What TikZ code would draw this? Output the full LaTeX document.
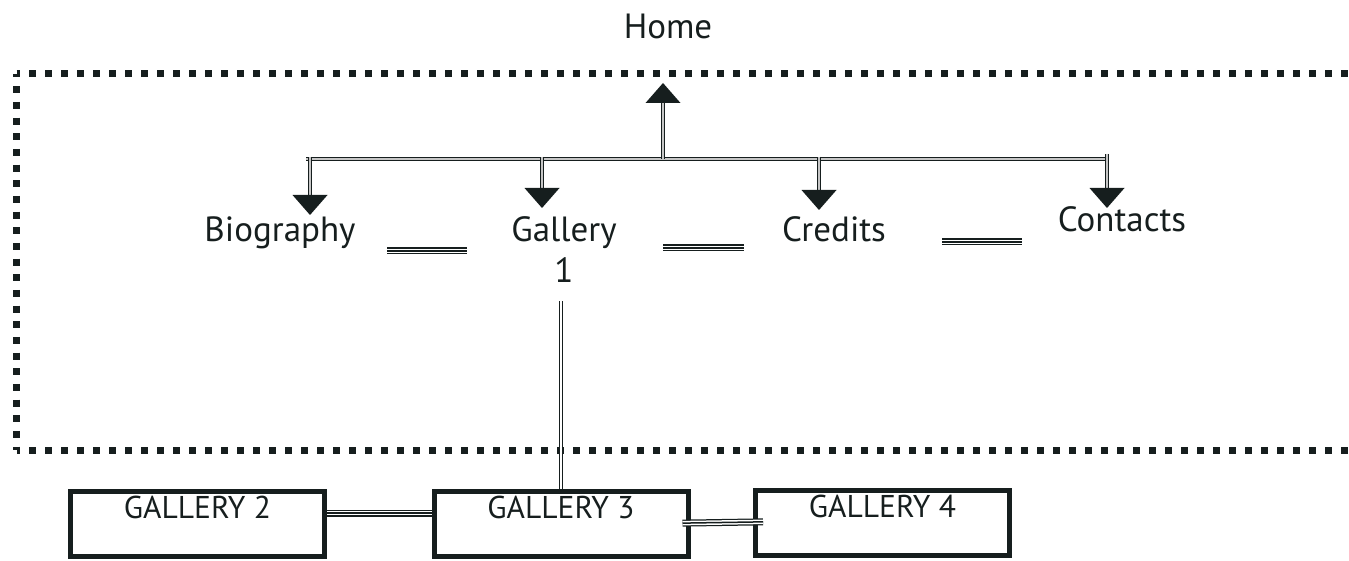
\documentclass[tikz,border=0pt]{standalone}
\usepackage{fontspec}
\setmainfont{PT Sans}
\usetikzlibrary{calc}
\definecolor{ink}{RGB}{22,30,30}
\tikzset{
  lbl/.style={inner sep=0pt, text=ink, font=\fontsize{35}{41}\selectfont},
  gbox/.style={draw=ink, line width=5pt, inner sep=0pt, minimum width=254pt,
    text height=26.5pt, text depth=38.5pt, text=ink, font=\fontsize{31.5}{34}\selectfont},
  stem/.style={draw=ink, line width=1.3pt, double=gray!45, double distance=1.4pt},
  rail/.style={draw=ink, line width=1.2pt, double=white, double distance=1.5pt},
  triple/.style={draw=ink, line width=7pt,
    postaction={draw=white, line width=1.5pt, double=ink, double distance=1.5pt}},
  border/.style={draw=ink, line width=7pt},
  head/.pic={\fill[ink] (0,0) -- (-17.5,-20) -- (17.5,-20) -- cycle;}
}
\begin{document}
\begin{tikzpicture}[x=1pt, y=-1pt]
  \useasboundingbox (0,0) rectangle (1349,561);
  % dotted frame
  \draw[border, dash pattern=on 7pt off 9pt, dash phase=3.5pt] (16.5,74) -- (1349,74);
  \draw[border, dash pattern=on 7pt off 8.67pt, dash phase=3.5pt] (16.5,74) -- (16.5,450);
  \draw[border, dash pattern=on 7pt off 9pt, dash phase=3.5pt] (16.5,450) -- (1349,450);
  % labels
  \node[lbl, anchor=base] (home) at (668,39) {Home};
  \node[lbl, anchor=base] (bio) at (280,242) {Biography};
  \node[lbl, anchor=north, align=center] (gal) at (564,216) {Gallery\\1};
  \node[lbl, anchor=base] (cred) at (834,242) {Credits};
  \node[lbl, anchor=base] (cont) at (1122,232) {Contacts};
  % boxes
  \node[gbox, anchor=base] (g2) at (197.5,518) {GALLERY 2};
  \node[gbox, anchor=base] (g3) at (561,518) {GALLERY 3};
  \node[gbox, anchor=base] (g4) at (882.5,517) {GALLERY 4};
  % bar and arrows
  \coordinate (bar-w) at (306,159);
  \coordinate (bar-e) at (1109,159);
  \coordinate (home-in) at (663,83);
  \draw[stem] (bar-w) -- (bar-e);
  \draw[stem] (home-in |- bar-w) -- ([yshift=-20pt]home-in);
  \pic[rotate=180] at (home-in) {head};
  \foreach \x/\ytop/\ytip in {310/157/215, 542/157/208, 819/157/210, 1107/154/208}{
    \draw[stem] (\x,\ytop) -- (\x,\ytip-20);
    \pic at (\x,\ytip) {head};
  }
  % links between labels
  \draw[triple] (387,251) -- ++(80,0);
  \draw[triple] (663,248) -- ++(81,0);
  \draw[triple] (942,242) -- ++(80,0);
  % links to boxes
  \draw[rail, shorten <=19pt] (g3.north |- gal.south) -- (g3.north);
  \draw[triple] ([yshift=11pt]g2.east) -- ([yshift=11pt]g3.west);
  \draw[triple, shorten <=-8pt, shorten >=-10pt] ([yshift=1pt]g3.east) -- ([yshift=1pt]g4.west);
\end{tikzpicture}
\end{document}
